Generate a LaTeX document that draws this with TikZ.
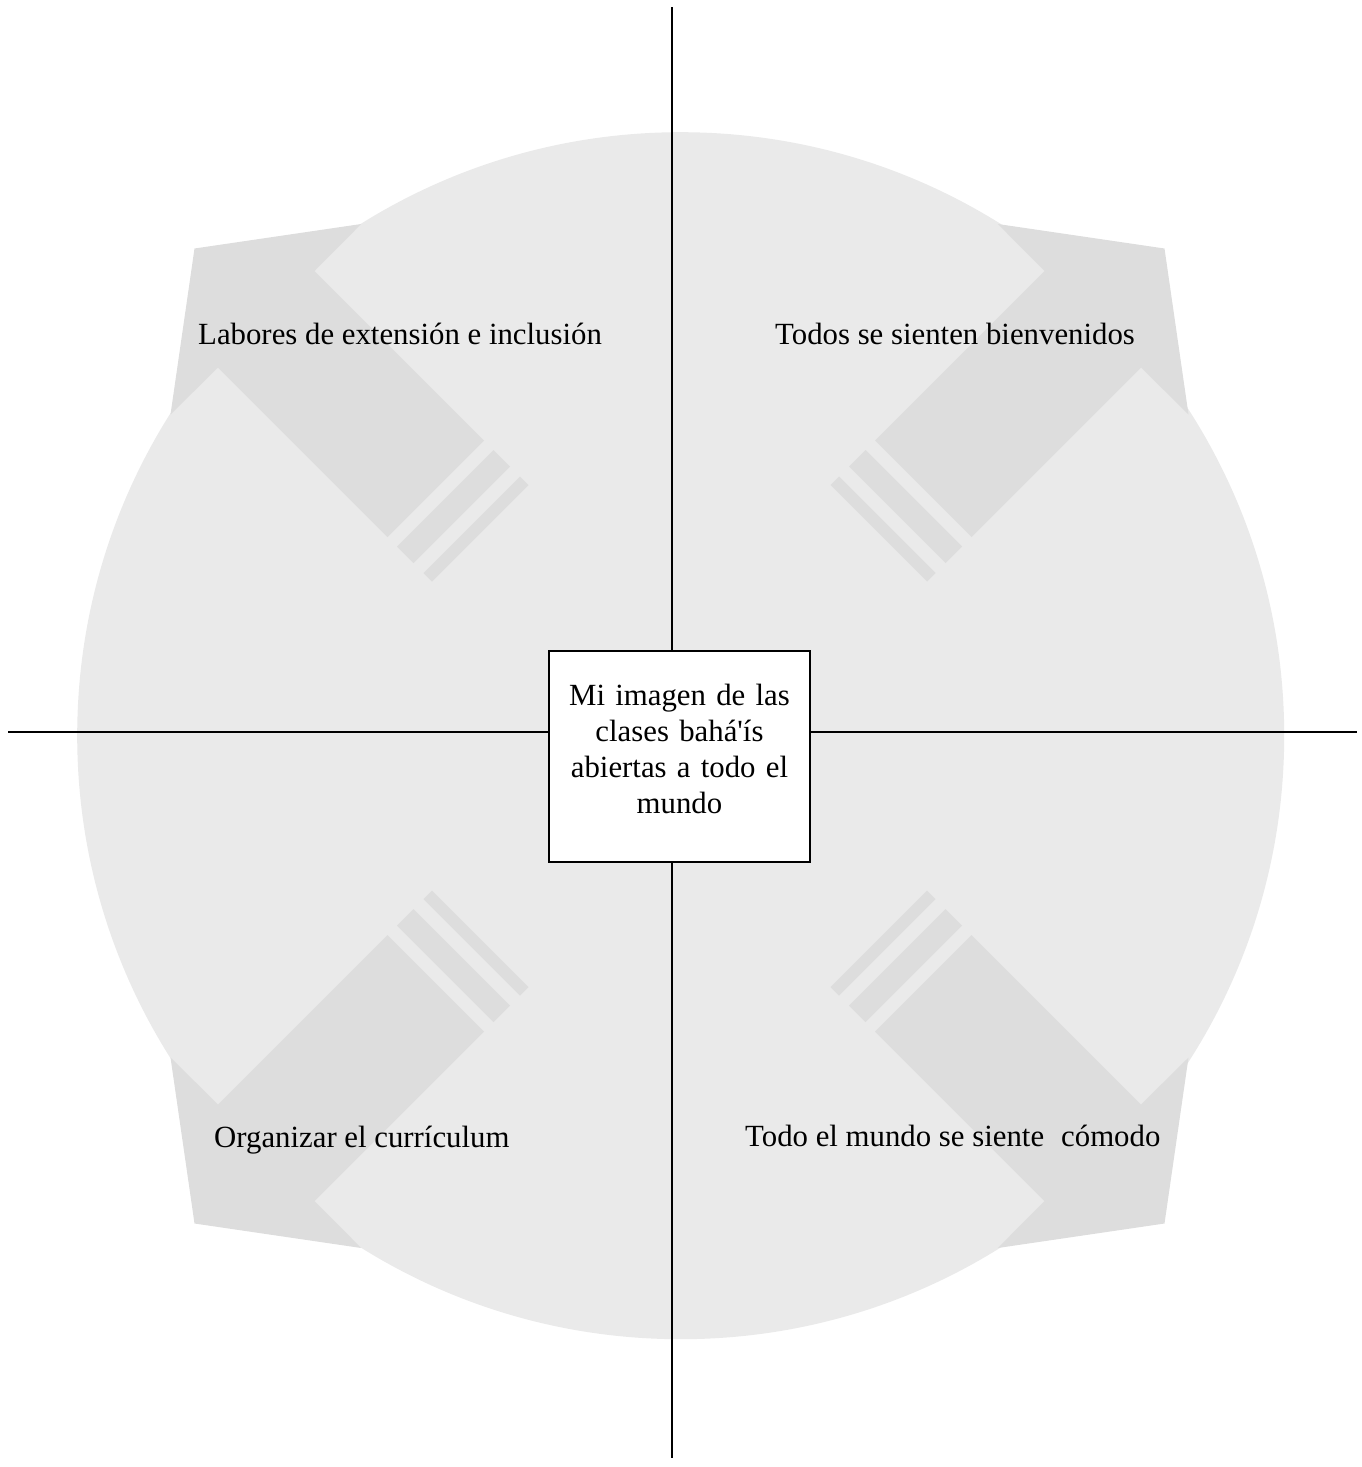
\documentclass[tikz,border=0pt]{standalone}
\usepackage{fontspec}
\setmainfont{Liberation Serif}
\definecolor{lightg}{HTML}{EAEAEA}
\definecolor{darkg}{HTML}{DDDDDD}
\begin{document}
\begin{tikzpicture}[x=1pt,y=-1pt,
  lbl/.style={anchor=base west,inner sep=0pt,font=\fontsize{30.8}{36}\selectfont},
  pencil/.style={fill=darkg,draw=none},
  axisline/.style={line width=1.9pt,black},
  centerbox/.style={draw=black,line width=1.8pt,fill=white,minimum width=261pt,minimum height=211pt,inner sep=0pt,text width=240pt,align=center,font=\fontsize{30.8}{36}\selectfont}]
\useasboundingbox (0,0) rectangle (1362,1467);
\fill[lightg] (680.7,735.7) circle[radius=603.5];
\foreach \sx/\sy in {1/1,-1/1,1/-1,-1/-1} {
  \begin{scope}[shift={(679.5,736)},xscale=\sx,yscale=\sy]
    \fill[pencil] (-318.3,-512) -- (-485,-487.5) -- (-509,-321.5) -- (-461.5,-368.5) -- (-292,-199) -- (-195.5,-295.5) -- (-365,-465) -- cycle;
    \fill[pencil] (-186,-286) -- (-169.5,-269.5) -- (-266,-173) -- (-282.5,-189.5) -- cycle;
    \fill[pencil] (-159.5,-259.5) -- (-151,-251) -- (-247.5,-154.5) -- (-256,-163) -- cycle;
  \end{scope}
}
\coordinate (vt) at (672.3,7);
\coordinate (vb) at (672.3,1458);
\coordinate (hl) at (8,732);
\coordinate (hr) at (1357,732);
\draw[axisline] (vt) -- (vb);
\draw[axisline] (hl) -- (hr);
\node[centerbox] (box) at (679.5,756.5) {Mi imagen de las\\clases bahá\textquotesingle ís\\abiertas a todo el\\mundo\rule[-16pt]{0pt}{16pt}};
\node[lbl] (t1) at (198,344) {Labores de extensión e inclusión};
\node[lbl] (t2) at (775,344) {Todos se sienten bienvenidos};
\node[lbl] (t3) at (214,1147) {Organizar el currículum};
\node[lbl] (t4) at (745,1146.5) {Todo el mundo se siente\hspace{17pt}cómodo};
\end{tikzpicture}
\end{document}
